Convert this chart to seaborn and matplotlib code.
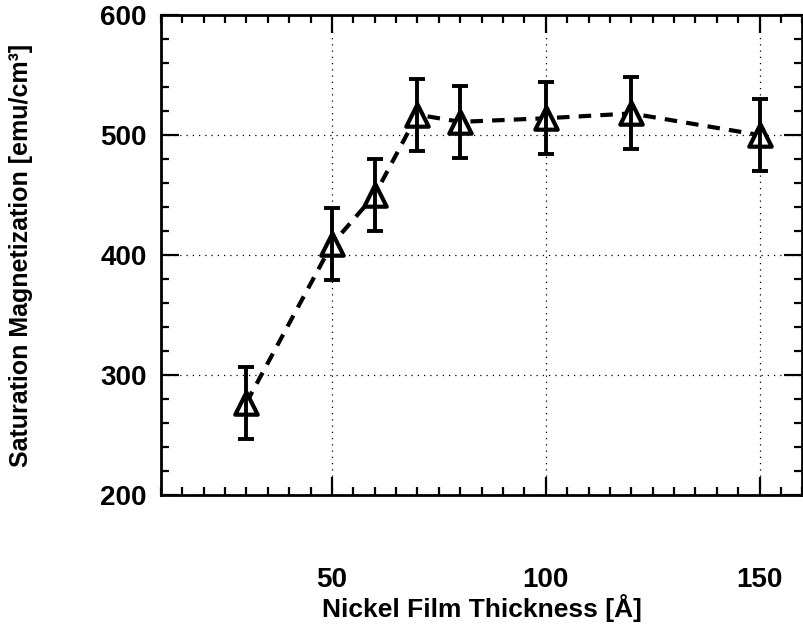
import matplotlib
matplotlib.use('Agg')
import matplotlib.pyplot as plt
import numpy as np
import seaborn as sns
import pandas as pd

# nickel film thickness [A] and saturation magnetization [emu/cm^3]
thickness = [30, 50, 60, 70, 80, 100, 120, 150]
magnetization = [277, 409, 450, 517, 511, 514, 518, 500]
error = [30, 30, 30, 30, 30, 30, 30, 30]

df = pd.DataFrame({'thickness': thickness, 'ms': magnetization, 'err': error})

sns.set_style('ticks')
plt.rcParams['font.family'] = ['Liberation Sans', 'DejaVu Sans']
plt.rcParams['font.weight'] = 'bold'
plt.rcParams['text.color'] = 'black'

fig = plt.figure(figsize=(8.04, 6.26), dpi=100)
ax = fig.add_axes([0.2, 0.209, 0.798, 0.767])

# dashed connecting line
sns.lineplot(data=df, x='thickness', y='ms', ax=ax, color='black',
             linewidth=3, dashes=False, zorder=2)
ax.lines[0].set_linestyle((0, (3, 2.2)))
# open triangles
sns.scatterplot(data=df, x='thickness', y='ms', ax=ax, marker='^', s=260,
                facecolor='white', edgecolor='black', linewidth=3, zorder=3)
ax.errorbar(df.thickness, df.ms, yerr=df.err, fmt='none', ecolor='black',
            elinewidth=2.8, capsize=6, capthick=2.8, zorder=4)

ax.set_xlim(10, 160)
ax.set_ylim(200, 600)
ax.set_xticks([50, 100, 150])
ax.set_yticks([200, 300, 400, 500, 600])
ax.set_xticks(np.arange(10, 161, 5), minor=True)
ax.set_yticks(np.arange(200, 601, 20), minor=True)
ax.grid(True, which='major', color='black', linestyle=(0, (1, 4)), linewidth=0.9)
ax.tick_params(which='both', direction='in', top=True, right=True, width=1.6,
               colors='black', labelcolor='black')
ax.tick_params(which='major', length=13, labelsize=20)
ax.tick_params(axis='x', which='major', pad=52)
ax.tick_params(axis='y', which='major', pad=10)
ax.tick_params(which='minor', length=6)
for s in ax.spines.values():
    s.set_linewidth(2)
    s.set_color('black')

ax.set_xlabel('Nickel Film Thickness [Å]', fontsize=19, fontweight='bold',
              color='black', va='center')
ax.xaxis.set_label_coords(0.5, -0.234)
ax.set_ylabel('Saturation Magnetization [emu/cm³]', fontsize=18, fontweight='bold',
              color='black', va='center')
ax.yaxis.set_label_coords(-0.218, 0.5)

plt.savefig('out.png', dpi=100)
